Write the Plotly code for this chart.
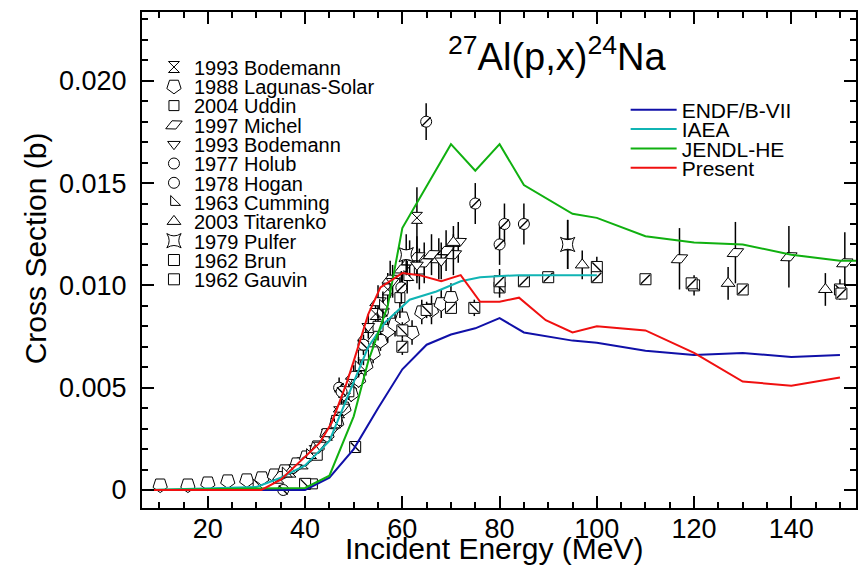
import plotly.graph_objects as go

# ---------------- data ----------------
# Evaluated / calculated curves (energy in MeV, cross section in b)
endf_E = [8, 40, 45, 50, 55, 60, 65, 70, 75, 80, 85, 90, 95, 100, 110, 120, 130, 140, 150]
endf_y = [0, 0, 0.0006, 0.0020, 0.0040, 0.0059, 0.0071, 0.0076, 0.0079, 0.0084, 0.0077, 0.0075,
          0.0073, 0.0072, 0.0068, 0.0066, 0.0067, 0.0065, 0.0066]

iaea_E = [8, 25, 30, 35, 40, 45, 48.5, 50.5, 53, 56.5, 61.5, 67, 72, 76, 84, 100]
iaea_y = [0, 0.0001, 0.00015, 0.0006, 0.0012, 0.0024, 0.0044, 0.0055, 0.0070, 0.0082, 0.0093,
          0.0097, 0.0102, 0.0104, 0.0105, 0.0105]

jendl_E = [8, 40, 45, 50, 53, 57, 60, 70, 75, 80, 85, 95, 100, 110, 120, 130, 140, 150, 156]
jendl_y = [0, 0.0001, 0.0007, 0.0036, 0.0063, 0.0090, 0.0128, 0.0169, 0.0156, 0.0169, 0.0149,
           0.0135, 0.0133, 0.0124, 0.0121, 0.0120, 0.0115, 0.0112, 0.0112]

present_E = [8, 31, 35, 43, 45.5, 48.5, 50, 53, 55.5, 60, 63.5, 68, 72, 76, 80, 84, 89.5, 95,
             100, 110, 120, 130, 140, 150]
present_y = [0, 0, 0.0005, 0.0023, 0.0033, 0.0052, 0.0063, 0.0086, 0.0099, 0.0106, 0.0105, 0.0102,
             0.0105, 0.0092, 0.0092, 0.0094, 0.0083, 0.0077, 0.0080, 0.0078, 0.0067, 0.0053, 0.0051,
             0.0055]

# Experimental data sets
bod93a_E = [34.5, 37, 39.5, 42, 44.5, 47, 49.5, 52, 54.5, 57, 63, 94]
bod93a_y = [0.0006, 0.0009, 0.0013, 0.0019, 0.0027, 0.0038, 0.0052, 0.0070, 0.0086, 0.0098, 0.0133, 0.0120]
bod93a_e = [0.0001, 0.0001, 0.0002, 0.0002, 0.0003, 0.0004, 0.0005, 0.0006, 0.0007, 0.0008, 0.0015, 0.0012]

lag_E = [10.2, 15.9, 20, 24.1, 28, 31.1, 33.7, 35.8, 38.3, 40.3, 42.5, 44.5, 46.5, 48, 49.5, 51,
         52.5, 54, 55.5, 57, 58.5, 60, 62, 64, 66, 68, 70]
lag_y = [0.00024, 0.00024, 0.00034, 0.00044, 0.00049, 0.00059, 0.00073, 0.00093, 0.00127, 0.00161,
         0.0021, 0.0027, 0.0033, 0.0040, 0.0047, 0.0054, 0.0061, 0.0067, 0.0073, 0.0078, 0.0081,
         0.0084, 0.0077, 0.0087, 0.0088, 0.0091, 0.0094]
lag_e = [0, 0, 0, 0, 0, 0, 0, 0.0001, 0.0001, 0.0001, 0.0002, 0.0002, 0.0003, 0.0003, 0.0004,
         0.0004, 0.0005, 0.0005, 0.0005, 0.0006, 0.0006, 0.0006, 0.0006, 0.0006, 0.0007, 0.0007, 0.0007]

udd_E = [41.5, 42.5, 46.5, 49, 52, 55, 59.5, 63.5]
udd_y = [0.0003, 0.0017, 0.0034, 0.0048, 0.0066, 0.0080, 0.0094, 0.0108]
udd_e = [0.00005, 0.0002, 0.0003, 0.0004, 0.0005, 0.0007, 0.0010, 0.0010]

mic_E = [35, 37.5, 40, 42.5, 45, 47.5, 50, 52.5, 55, 57.5, 60, 61.5, 63, 64.5, 66, 67.5, 69, 70.5,
         71.5, 117, 128.5, 139.5, 151]
mic_y = [0.0007, 0.0010, 0.0014, 0.0020, 0.0028, 0.0040, 0.0056, 0.0075, 0.0092, 0.0103, 0.0108,
         0.0112, 0.0114, 0.0111, 0.0115, 0.0113, 0.0117, 0.0115, 0.0121, 0.0113, 0.0116, 0.0114, 0.0111]
mic_e = [0.0001, 0.0001, 0.0002, 0.0002, 0.0003, 0.0004, 0.0005, 0.0006, 0.0008, 0.0009, 0.0010,
         0.0010, 0.0010, 0.0010, 0.0010, 0.0010, 0.0010, 0.0010, 0.0010, 0.0015, 0.0015, 0.0015, 0.0015]

bod93b_E = [38, 43, 48, 53, 58, 63, 68]
bod93b_y = [0.0011, 0.0022, 0.0046, 0.0080, 0.0102, 0.0110, 0.0112]
bod93b_e = [0.0001, 0.0002, 0.0004, 0.0006, 0.0008, 0.0009, 0.0009]

hol_E = [47, 59.8, 64.9, 75, 80, 81, 85]
hol_y = [0.0050, 0.0099, 0.0180, 0.0140, 0.0120, 0.0130, 0.0130]
hol_e = [0.0005, 0.0008, 0.0009, 0.0010, 0.0010, 0.0010, 0.0010]

hog_E = [35.5, 47.5, 52, 56]
hog_y = [0.0000, 0.0048, 0.0071, 0.0087]
hog_e = [0, 0.0004, 0.0005, 0.0006]

cum_E = [30, 36, 41, 46, 51, 56, 61]
cum_y = [0.0002, 0.0008, 0.0017, 0.0032, 0.0060, 0.0090, 0.0104]
cum_e = [0, 0.0001, 0.0002, 0.0003, 0.0005, 0.0007, 0.0008]

tit_E = [70.5, 97, 127, 147]
tit_y = [0.0121, 0.0110, 0.0101, 0.0098]
tit_e = [0.0008, 0.0007, 0.0008, 0.0008]

pul_E = [60.8, 94]
pul_y = [0.0115, 0.0120]
pul_e = [0.0010, 0.0012]

brun_E = [40, 50.3, 60, 65, 74.8, 80, 100, 120, 150]
brun_y = [0.0003, 0.0021, 0.0078, 0.0088, 0.0089, 0.0099, 0.0109, 0.0100, 0.0098]
brun_e = [0, 0, 0.0004, 0.0004, 0.0004, 0.0005, 0.0005, 0.0005, 0.0005]

gau_E = [60, 70, 80, 85, 90, 100, 110, 119.5, 130, 150.3]
gau_y = [0.0070, 0.0089, 0.0102, 0.0102, 0.0104, 0.0104, 0.0103, 0.0101, 0.0098, 0.0096]
gau_e = [0.0004, 0, 0.0006, 0, 0, 0, 0, 0, 0, 0]

x_ticks = [20, 40, 60, 80, 100, 120, 140]
y_ticks = [0, 0.005, 0.010, 0.015, 0.020]
y_ticktext = ["0", "0.005", "0.010", "0.015", "0.020"]

# ---------------- layout geometry (pixels) ----------------
W, H = 861, 567
L, R, T, B = 142, 858, 12, 508
FONT = "Liberation Sans, Arial, sans-serif"


def px_x(p):
    return (p - L) / (R - L)


def px_y(p):
    return (B - p) / (B - T)


fig = go.Figure()

# experimental sets: (name, E, y, err, symbol, size, angle, overlay_symbol)
exp_sets = [
    ("1993 Bodemann", bod93a_E, bod93a_y, bod93a_e, "hourglass", 11, 0, None),
    ("1988 Lagunas-Solar", lag_E, lag_y, lag_e, "pentagon", 15, 180, None),
    ("2004 Uddin", udd_E, udd_y, udd_e, "square", 10, 0, None),
    ("1997 Michel", mic_E, mic_y, mic_e, "diamond-wide", 13, -25, None),
    ("1993 Bodemann", bod93b_E, bod93b_y, bod93b_e, "triangle-down", 11, 0, None),
    ("1977 Holub", hol_E, hol_y, hol_e, "circle", 11, 0, "line-ne"),
    ("1978 Hogan", hog_E, hog_y, hog_e, "circle", 11, 0, "line-nw"),
    ("1963 Cumming", cum_E, cum_y, cum_e, "triangle-sw", 11, 0, None),
    ("2003 Titarenko", tit_E, tit_y, tit_e, "triangle-up", 12, 0, None),
    ("1979 Pulfer", pul_E, pul_y, pul_e, "star-square", 13, 0, None),
    ("1962 Brun", brun_E, brun_y, brun_e, "square", 11, 0, "line-nw"),
    ("1962 Gauvin", gau_E, gau_y, gau_e, "square", 11, 0, "line-ne"),
]

leg_row0, leg_dy = 67, 19.3
for i, (name, E, y, e, sym, size, ang, over) in enumerate(exp_sets):
    lname = "legend" if i == 0 else f"legend{i + 1}"
    fig.add_trace(go.Scatter(
        x=E, y=y, mode="markers", name=name, legend=lname,
        marker=dict(symbol=sym, size=size, angle=ang, color="white",
                    line=dict(color="black", width=1)),
        error_y=dict(type="data", array=e, visible=True, color="black",
                     thickness=1.5, width=0),
    ))
    if over:
        fig.add_trace(go.Scatter(
            x=E, y=y, mode="markers", showlegend=False, hoverinfo="skip",
            marker=dict(symbol=over, size=size - 2,
                        line=dict(color="black", width=1.3)),
        ))
    fig.update_layout({lname: dict(
        x=px_x(154), y=px_y(leg_row0 + i * leg_dy), xanchor="left", yanchor="middle",
        bgcolor="rgba(0,0,0,0)", borderwidth=0,
        font=dict(family=FONT, size=20, color="black"))})

# curves
curves = [
    ("ENDF/B-VII", endf_E, endf_y, "#1010a8"),
    ("IAEA", iaea_E, iaea_y, "#10b4b4"),
    ("JENDL-HE", jendl_E, jendl_y, "#10b010"),
    ("Present", present_E, present_y, "#f01010"),
]
for j, (name, E, y, col) in enumerate(curves):
    lname = f"legend{13 + j}"
    fig.add_trace(go.Scatter(x=E, y=y, mode="lines", name=name, legend=lname,
                             line=dict(color=col, width=2)))
    fig.update_layout({lname: dict(
        x=px_x(627), y=px_y(110 + j * 19.4), xanchor="left", yanchor="middle",
        bgcolor="rgba(0,0,0,0)", borderwidth=0, itemwidth=46,
        font=dict(family=FONT, size=21, color="black"))})

axis_common = dict(
    showline=True, linecolor="black", linewidth=2, mirror="ticks",
    ticks="inside", ticklen=12, tickwidth=2, tickcolor="black",
    showgrid=False, zeroline=False,
    tickfont=dict(family=FONT, size=27, color="black"),
)

fig.update_xaxes(range=[6.46, 153.3], tickvals=x_ticks, ticklabelstandoff=-4,
                 minor=dict(dtick=5, tick0=0, ticks="inside", ticklen=6, tickwidth=1.5,
                            tickcolor="black"),
                 **axis_common)
fig.update_yaxes(range=[-0.00088, 0.02336], tickvals=y_ticks, ticktext=y_ticktext,
                 ticklabelstandoff=8,
                 minor=dict(dtick=0.001, tick0=0, ticks="inside", ticklen=6, tickwidth=1.5,
                            tickcolor="black"),
                 **axis_common)

fig.update_layout(
    width=W, height=H,
    margin=dict(l=L, r=W - R, t=T, b=H - B, pad=0),
    paper_bgcolor="white", plot_bgcolor="white",
    font=dict(family=FONT, color="black"),
    annotations=[
        dict(text="<sup>27</sup>Al(p,x)<sup>24</sup>Na", x=px_x(558), y=px_y(54),
             xref="paper", yref="paper", showarrow=False, xanchor="center", yanchor="middle",
             font=dict(family=FONT, size=38, color="black")),
        dict(text="Incident Energy (MeV)", x=px_x(495), y=0, yshift=-(H - B), 
             xref="paper", yref="paper", showarrow=False, xanchor="center", yanchor="bottom",
             font=dict(family=FONT, size=30, color="black")),
        dict(text="Cross Section (b)", x=px_x(35), y=px_y(248), textangle=-90,
             xref="paper", yref="paper", showarrow=False, xanchor="center", yanchor="middle",
             font=dict(family=FONT, size=30, color="black")),
    ],
)

fig.write_html("out.html")
